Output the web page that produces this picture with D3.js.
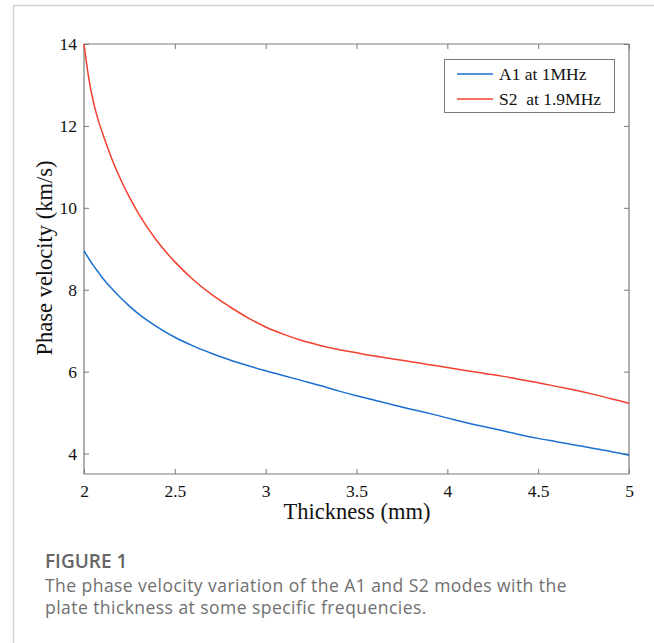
<!DOCTYPE html>
<html>
<head>
<meta charset="utf-8">
<script src="https://d3js.org/d3.v7.min.js"></script>
<style>
  body { margin: 0; background: #fff; }
</style>
</head>
<body>
<script>
// thickness values (mm)
var thickness = [2.0, 2.025, 2.05, 2.075, 2.1, 2.15, 2.2, 2.25, 2.3, 2.4, 2.5, 2.6, 2.7, 2.8, 2.9, 3.0, 3.1, 3.2, 3.3, 3.4, 3.5,
  3.6, 3.7, 3.8, 3.9, 4.0, 4.1, 4.2, 4.3, 4.4, 4.5, 4.6, 4.7, 4.8, 4.9, 5.0];

// phase velocity (km/s)
var a1 = [8.95, 8.77, 8.60, 8.45, 8.30, 8.04, 7.81, 7.60, 7.41, 7.10, 6.84, 6.63, 6.45, 6.29, 6.15, 6.02, 5.90, 5.78, 5.66, 5.53, 5.41,
  5.30, 5.19, 5.08, 4.98, 4.87, 4.76, 4.66, 4.56, 4.46, 4.37, 4.29, 4.21, 4.13, 4.05, 3.96];
var s2 = [14.0, 13.2, 12.62, 12.19, 11.85, 11.23, 10.71, 10.26, 9.86, 9.20, 8.68, 8.25, 7.89, 7.59, 7.32, 7.09, 6.91, 6.76, 6.64, 6.54, 6.46,
  6.38, 6.31, 6.24, 6.17, 6.10, 6.03, 5.96, 5.89, 5.81, 5.73, 5.64, 5.55, 5.45, 5.34, 5.23];

var xTicks = [2, 2.5, 3, 3.5, 4, 4.5, 5];
var yTicks = [4, 6, 8, 10, 12, 14];
var legendNames = ["A1 at 1MHz", "S2\u00a0 at 1.9MHz"];
var colors = ["#1a6fd0", "#f2402e"];

var captionTitle = "FIGURE 1";
var captionLines = ["The phase velocity variation of the A1 and S2 modes with the",
  "plate thickness at some specific frequencies."];

var W = 654, H = 643;
var mLeft = 84, mRight = 629, mTop = 44, mBottom = 474;
var serif = "'Liberation Serif', 'Times New Roman', serif";
var axisColor = "#7a7a7a";

var svg = d3.select("body").append("svg")
  .attr("width", W)
  .attr("height", H);

// card border
svg.append("path")
  .attr("d", "M13.5," + H + "V5.5H" + W)
  .attr("fill", "none")
  .attr("stroke", "#d2d2d2")
  .attr("stroke-width", 1.5);

var x = d3.scaleLinear().domain([2, 5]).range([mLeft, mRight]);
var y = d3.scaleLinear().domain([3.5, 14]).range([mBottom, mTop]);

// axes, ticks pointing inward like matlab
var xBottom = svg.append("g").attr("transform", "translate(0," + mBottom + ")")
  .call(d3.axisBottom(x).tickValues(xTicks).tickSize(-5).tickPadding(11).tickFormat(d3.format("")));
var xTop = svg.append("g").attr("transform", "translate(0," + mTop + ")")
  .call(d3.axisTop(x).tickValues(xTicks).tickSize(-5).tickFormat(""));
var yLeft = svg.append("g").attr("transform", "translate(" + mLeft + ",0)")
  .call(d3.axisLeft(y).tickValues(yTicks).tickSize(-5).tickPadding(7));
var yRight = svg.append("g").attr("transform", "translate(" + mRight + ",0)")
  .call(d3.axisRight(y).tickValues(yTicks).tickSize(-5).tickFormat(""));

[xBottom, xTop, yLeft, yRight].forEach(function(g) {
  g.attr("font-family", serif).attr("font-size", 17.5);
});
svg.selectAll(".domain").attr("stroke", axisColor).attr("stroke-width", 1.2);
svg.selectAll(".tick line").attr("stroke", axisColor).attr("stroke-width", 1);
svg.selectAll(".tick text").attr("fill", "#111");
xBottom.selectAll(".domain").attr("d", "M" + mLeft + ",0H" + mRight);
xTop.selectAll(".domain").attr("d", "M" + mLeft + ",0H" + mRight);
yLeft.selectAll(".domain").attr("d", "M0," + mTop + "V" + mBottom);
yRight.selectAll(".domain").attr("d", "M0," + mTop + "V" + mBottom);

// axis labels
svg.append("text")
  .attr("x", 357)
  .attr("y", 519)
  .attr("text-anchor", "middle")
  .style("font-family", serif)
  .style("font-size", "22.5px")
  .attr("fill", "#111")
  .text("Thickness (mm)");

svg.append("text")
  .attr("transform", "translate(52,258) rotate(-90)")
  .attr("text-anchor", "middle")
  .style("font-family", serif)
  .style("font-size", "22.5px")
  .attr("fill", "#111")
  .text("Phase velocity (km/s)");

// curves
var series = [a1, s2];
var line = d3.line()
  .x(function(d, i) { return x(thickness[i]); })
  .y(function(d) { return y(d); })
  .curve(d3.curveMonotoneX);

for (var i = 0; i < series.length; i++) {
  svg.append("path")
    .datum(series[i])
    .attr("d", line)
    .attr("fill", "none")
    .attr("stroke", colors[i])
    .attr("stroke-width", 1.5);
}

// legend
var lg = svg.append("g");
lg.append("rect")
  .attr("x", 444.5).attr("y", 59.5)
  .attr("width", 170).attr("height", 53)
  .attr("fill", "#fff")
  .attr("stroke", axisColor)
  .attr("stroke-width", 1);
for (var i = 0; i < legendNames.length; i++) {
  var ly = 74 + i * 25;
  lg.append("line")
    .attr("x1", 457).attr("x2", 493)
    .attr("y1", ly).attr("y2", ly)
    .attr("stroke", colors[i])
    .attr("stroke-width", 1.5);
  lg.append("text")
    .attr("x", 499).attr("y", ly + 5.5)
    .style("font-family", serif)
    .style("font-size", "17.5px")
    .attr("fill", "#111")
    .text(legendNames[i]);
}

// caption below the figure
var sans = "'Open Sans', Lato, sans-serif";
svg.append("text")
  .attr("x", 45).attr("y", 568)
  .style("font-family", sans)
  .style("font-size", "19px")
  .style("font-weight", "600")
  .attr("fill", "#666")
  .text(captionTitle);
for (var i = 0; i < captionLines.length; i++) {
  svg.append("text")
    .attr("x", 45).attr("y", 592 + i * 22)
    .style("font-family", sans)
    .style("font-size", "17.5px")
    .style("letter-spacing", "0.45px")
    .attr("fill", "#707070")
    .text(captionLines[i]);
}
</script>
</body>
</html>
